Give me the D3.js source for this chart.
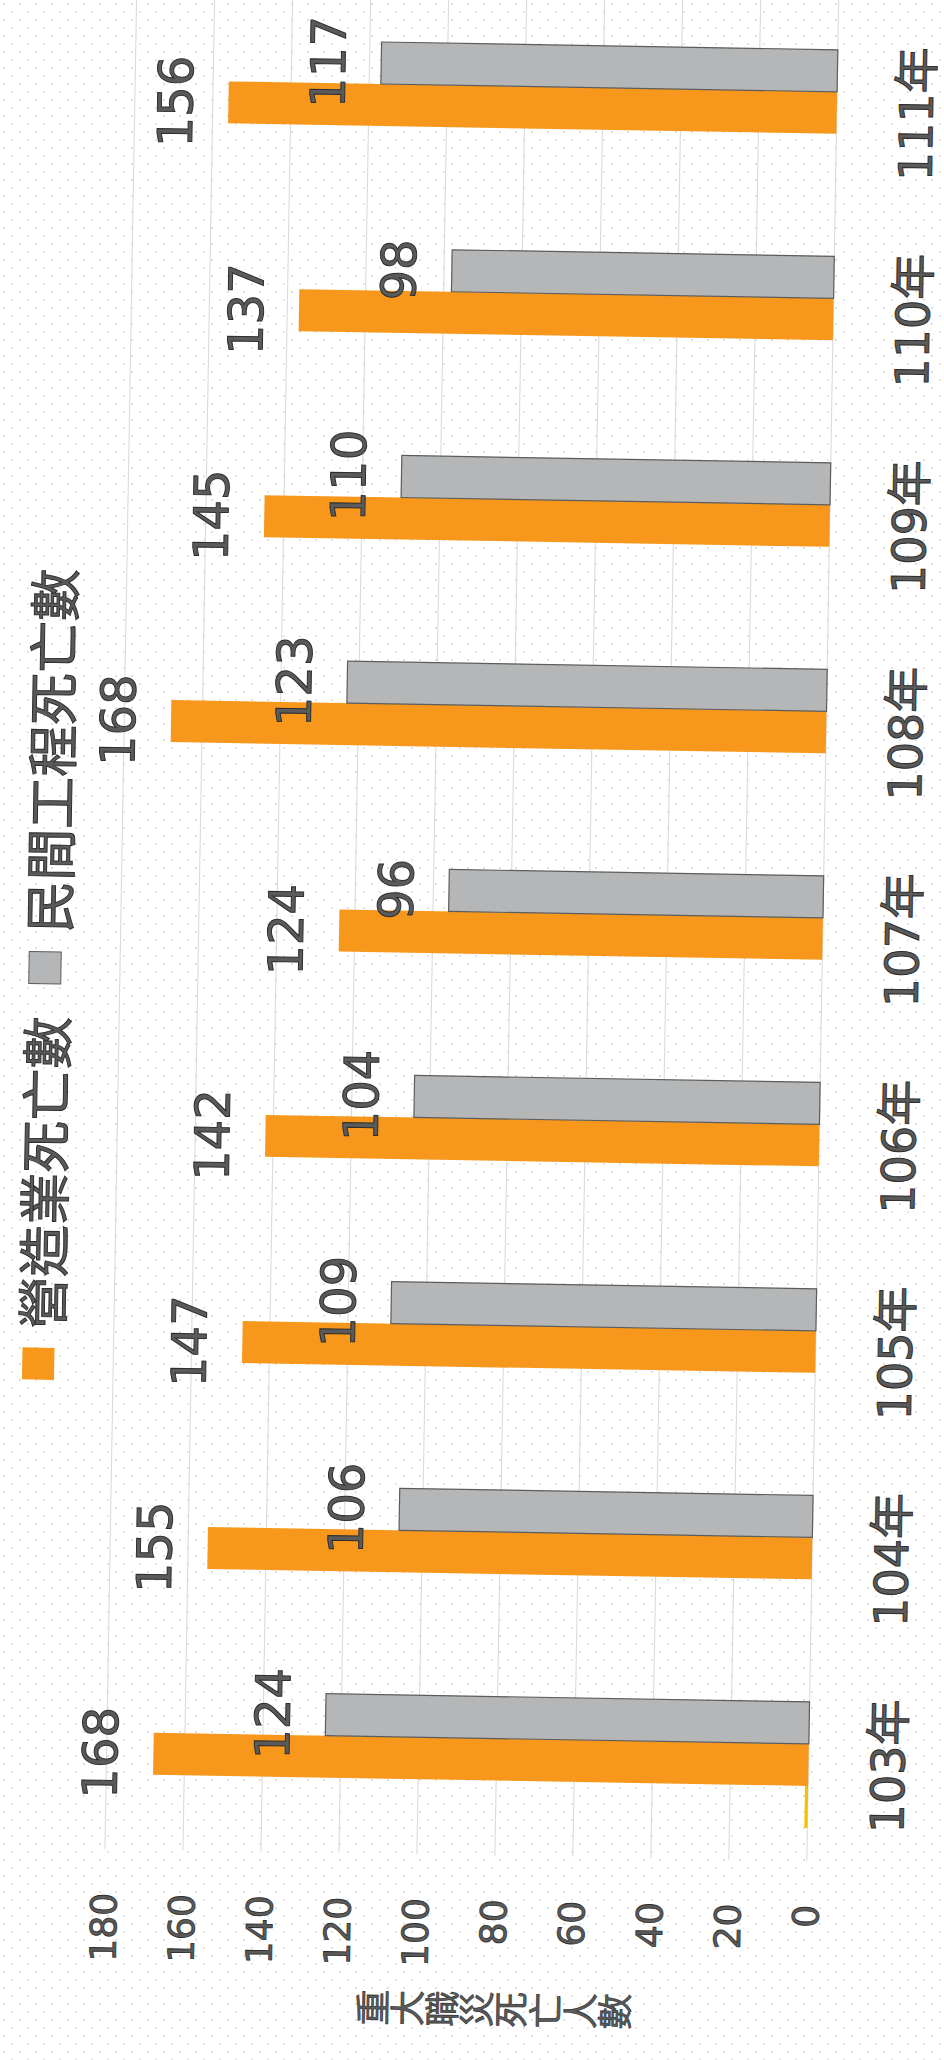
<!DOCTYPE html>
<html>
<head>
<meta charset="utf-8">
<script src="https://cdn.jsdelivr.net/npm/d3@7"></script>
<style>
  html, body { margin: 0; padding: 0; background: #fff; }
  svg { display: block; }
</style>
</head>
<body>
<script>
// ---- data ----
const categories = ["103年", "104年", "105年", "106年", "107年", "108年", "109年", "110年", "111年"];
const constructionDeaths = [168, 155, 147, 142, 124, 168, 145, 137, 156];   // 營造業死亡數
const publicWorksDeaths  = [124, 106, 109, 104,  96, 123, 110,  98, 117];   // 民間工程死亡數
const thirdSeries        = [0.8,   0,   0,   0,   0,   0,   0,   0,   0];   // unnamed yellow series
const yTicks = [0, 20, 40, 60, 80, 100, 120, 140, 160, 180];
const seriesNames = ["營造業死亡數", "民間工程死亡數"];
const yTitle = "重大職災死亡人數";

const W = 944, H = 2060;
const colors = { s3: "#f2c200", s1: "#f7981d", s2: "#b4b6b7" };
const textFill = "#5a5a5a", textStroke = "#2e2e2e";
const latin = "'DejaVu Sans', 'Noto Sans CJK TC', sans-serif";
const cjk = "'Noto Sans CJK TC', 'DejaVu Sans', sans-serif";

const svg = d3.select("body").append("svg").attr("width", W).attr("height", H);

// dotted paper background
const defs = svg.append("defs");
const pat = defs.append("pattern").attr("id", "dots").attr("width", 16).attr("height", 16)
  .attr("patternUnits", "userSpaceOnUse");
pat.append("circle").attr("cx", 4).attr("cy", 4).attr("r", 0.8).attr("fill", "#b9b9b9");
pat.append("circle").attr("cx", 12).attr("cy", 12).attr("r", 0.8).attr("fill", "#c4c4c4");
svg.append("rect").attr("width", W).attr("height", H).attr("fill", "#fff");
svg.append("rect").attr("width", W).attr("height", H).attr("fill", "url(#dots)");

// chart drawn in its original (unrotated) frame, then rotated onto the page
const g = svg.append("g")
  .attr("transform", "rotate(0.98,472,1030) translate(0," + H + ") rotate(-90)");

const rows = categories.map((c, i) => ({
  cat: c,
  s3: thirdSeries[i],
  s1: constructionDeaths[i],
  s2: publicWorksDeaths[i]
}));
const keys = ["s3", "s1", "s2"];

const x0 = d3.scaleBand().domain(categories).range([197.7, 2056.6])
  .paddingInner(0.39).paddingOuter(0.195);
const x1 = d3.scaleBand().domain(keys).range([0, x0.bandwidth()]);
const y = d3.scaleLinear().domain([0, 180]).range([821, 119]);

// gridlines
g.append("g").selectAll("line").data(yTicks).join("line")
  .attr("x1", 205).attr("x2", 2090)
  .attr("y1", d => y(d)).attr("y2", d => y(d))
  .attr("stroke", "#dadada").attr("stroke-width", 1.1);

// tick labels
g.append("g").selectAll("text").data(yTicks).join("text")
  .attr("x", 161).attr("y", d => y(d))
  .attr("text-anchor", "end").attr("dominant-baseline", "central")
  .attr("font-family", latin).attr("font-size", 36)
  .attr("fill", textFill).attr("stroke", textStroke).attr("stroke-width", 0.8)
  .text(d => d);

// bars
const groups = g.append("g").selectAll("g").data(rows).join("g")
  .attr("transform", d => `translate(${x0(d.cat)},0)`);

groups.selectAll("rect").data(d => keys.map(k => ({ key: k, value: d[k] })).filter(e => e.value > 0))
  .join("rect")
  .attr("x", d => x1(d.key))
  .attr("width", x1.bandwidth())
  .attr("y", d => y(d.value))
  .attr("height", d => y(0) - y(d.value))
  .attr("fill", d => colors[d.key])
  .attr("stroke", d => d.key === "s2" ? "#5c5c5c" : "none")
  .attr("stroke-width", d => d.key === "s2" ? 1.2 : 0);

// data labels
groups.selectAll("text").data(d => ["s1", "s2"].map(k => ({ key: k, value: d[k] })))
  .join("text")
  .attr("x", d => x1(d.key) + x1.bandwidth() / 2)
  .attr("y", d => y(d.value) - 53)
  .attr("text-anchor", "middle").attr("dominant-baseline", "central")
  .attr("font-family", latin).attr("font-size", 48)
  .attr("fill", textFill).attr("stroke", textStroke).attr("stroke-width", 1)
  .text(d => d.value);

// category labels
g.append("g").selectAll("text").data(categories).join("text")
  .attr("x", d => x0(d) + x0.bandwidth() / 2)
  .attr("y", 901)
  .attr("text-anchor", "middle").attr("dominant-baseline", "central")
  .attr("font-family", latin).attr("font-size", 46)
  .attr("fill", textFill).attr("stroke", textStroke).attr("stroke-width", 1)
  .text(d => d);

// legend
const legendItems = [
  { name: seriesNames[0], color: colors.s1, mx: 673, tx: 724 },
  { name: seriesNames[1], color: colors.s2, mx: 1069, tx: 1120 }
];
const lg = g.append("g").selectAll("g").data(legendItems).join("g");
lg.append("rect").attr("x", d => d.mx).attr("y", 28).attr("width", 32).attr("height", 32)
  .attr("fill", d => d.color)
  .attr("stroke", (d, i) => i === 1 ? "#5c5c5c" : "none");
lg.append("text").attr("x", d => d.tx).attr("y", 45)
  .attr("dominant-baseline", "central")
  .attr("font-family", cjk).attr("font-size", 52)
  .attr("fill", textFill).attr("stroke", textStroke).attr("stroke-width", 1)
  .text(d => d.name);

// y-axis title (stacked characters)
g.append("g").selectAll("text").data(Array.from(yTitle)).join("text")
  .attr("x", 51).attr("y", (d, i) => 387 + i * 34.6)
  .attr("text-anchor", "middle").attr("dominant-baseline", "central")
  .attr("font-family", cjk).attr("font-size", 36)
  .attr("fill", textFill).attr("stroke", textStroke).attr("stroke-width", 0.6)
  .text(d => d);
</script>
</body>
</html>
